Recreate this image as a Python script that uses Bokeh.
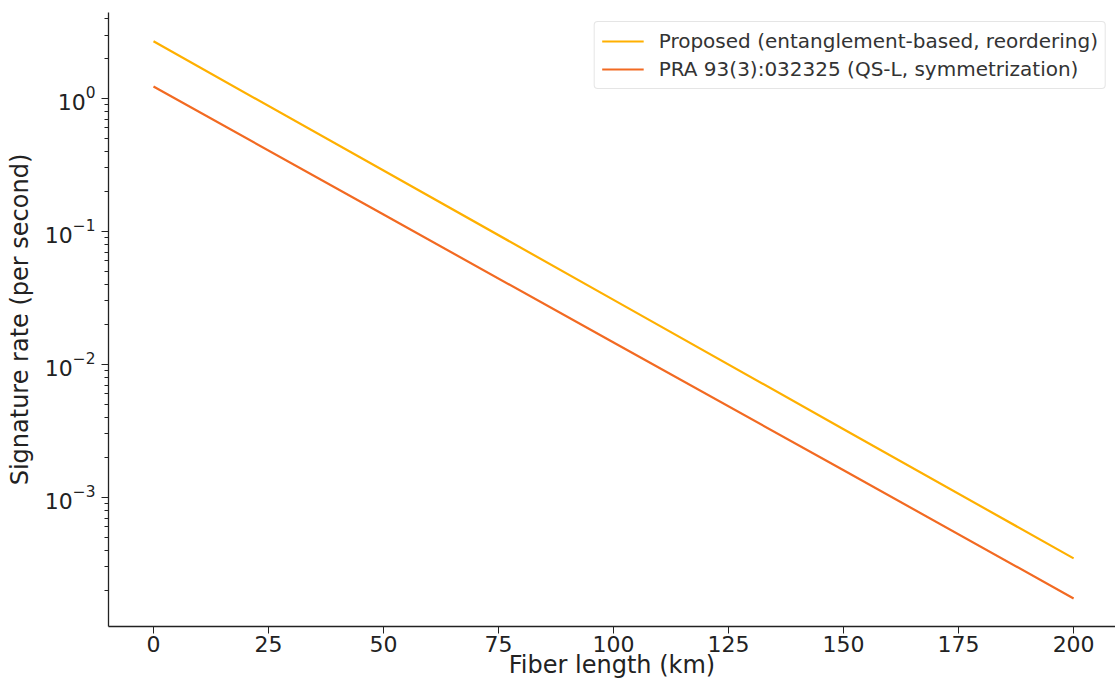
from bokeh.plotting import figure
from bokeh.models import Range1d, FixedTicker, Legend, LegendItem
from bokeh.embed import file_html
from bokeh.resources import INLINE

# Data (fiber length in km, signature rate per second)
fiber_km = [0, 50, 100, 150, 200]
proposed_rate = [2.69, 0.287, 0.0306, 3.26e-3, 3.48e-4]
pra_rate = [1.23, 0.134, 0.0146, 1.60e-3, 1.74e-4]
x_ticks = [0, 25, 50, 75, 100, 125, 150, 175, 200]
series_names = ["Proposed (entanglement-based, reordering)",
                "PRA 93(3):032325 (QS-L, symmetrization)"]

FONT = "DejaVu Sans"

p = figure(width=1115, height=686, y_axis_type="log",
           x_range=Range1d(-9.78, 209.1), y_range=Range1d(1.07e-4, 4.43),
           output_backend="svg", toolbar_location=None,
           min_border_left=108, min_border_top=12, min_border_bottom=60,
           min_border_right=0)
p.outline_line_color = None
p.grid.visible = False
p.background_fill_color = "white"

r1 = p.line(fiber_km, proposed_rate, line_color="#FFB000", line_width=2.2)
r2 = p.line(fiber_km, pra_rate, line_color="#F26A22", line_width=2.2)

p.xaxis.ticker = FixedTicker(ticks=x_ticks)
p.xaxis.minor_tick_line_color = None
p.xaxis.axis_label = "Fiber length (km)"
p.yaxis.axis_label = "Signature rate (per second)"

for ax in (p.xaxis, p.yaxis):
    ax.axis_label_text_font = FONT
    ax.axis_label_text_font_style = "normal"
    ax.axis_label_text_font_size = "24px"
    ax.axis_label_text_color = "#222222"
    ax.major_label_text_font = FONT
    ax.major_label_text_color = "#222222"
    ax.axis_line_color = "#222222"
    ax.axis_line_width = 1.3
    ax.major_tick_line_color = "#222222"
    ax.major_tick_out = 7
    ax.major_tick_in = 0
    ax.minor_tick_out = 4
    ax.minor_tick_in = 0

p.xaxis.major_label_text_font_size = "22px"
p.yaxis.major_label_text_font_size = "22px"
p.yaxis.axis_label_standoff = 8
p.yaxis.major_label_standoff = 6
p.xaxis.axis_label_standoff = -4
p.xaxis.major_label_standoff = 2
p.yaxis.minor_tick_line_color = "#222222"

legend = Legend(items=[LegendItem(label=series_names[0], renderers=[r1]),
                       LegendItem(label=series_names[1], renderers=[r2])],
                location="top_right")
legend.label_text_font = FONT
legend.label_text_font_size = "20px"
legend.label_text_color = "#333333"
legend.border_line_color = "#cccccc"
legend.border_line_width = 1
legend.border_radius = 4
legend.glyph_width = 42
legend.spacing = 4
legend.padding = 7
legend.margin = 9
legend.label_standoff = 15
p.add_layout(legend)

open("out.html", "w").write(file_html(p, INLINE))
